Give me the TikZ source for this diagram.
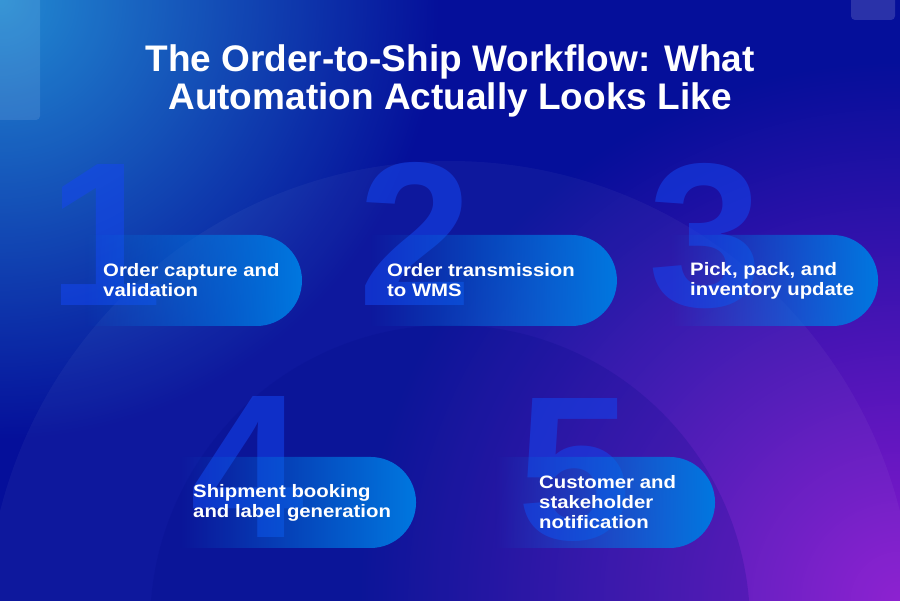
\documentclass[tikz,border=0pt]{standalone}
\usepackage{fontspec}
\setmainfont{Liberation Sans}
\newfontfamily\lblfont{Liberation Sans}[FakeStretch=1.13, UprightFont={* Bold}]
\usetikzlibrary{fadings}
\definecolor{bgbase}{HTML}{050F9A}
\definecolor{glowblue}{HTML}{228AD2}
\definecolor{glowpurple}{HTML}{8A1AD0}
\definecolor{pillblue}{HTML}{0078E0}
\definecolor{numblue}{HTML}{1446F0}
\definecolor{navydeep}{HTML}{030A88}
\tikzfading[name=glow, inner color=transparent!0, outer color=transparent!100]
\tikzfading[name=pillfade, left color=transparent!100, right color=transparent!0]
\begin{document}
\begin{tikzpicture}[x=1pt,y=-1pt,
  bignum/.style={font=\fontsize{205}{205}\selectfont\bfseries, text=numblue, text opacity=0.55, inner sep=0, anchor=base},
  pill/.style={fill=pillblue, path fading=pillfade},
  lbl/.style={font=\fontsize{18}{20}\selectfont\lblfont, text=white, align=left, anchor=west, inner sep=0},
  titletext/.style={font=\fontsize{37}{38}\selectfont\bfseries, text=white, align=center, anchor=north, inner sep=0},
  deco/.style={fill=white, rounded corners=4pt}]
\useasboundingbox (0,0) rectangle (900,601);
\fill[bgbase] (0,0) rectangle (900,601);
\begin{scope}
  \clip (0,0) rectangle (900,601);
  \fill[glowblue, path fading=glow] (0,0) circle (440pt);
  \fill[glowpurple, path fading=glow] (900,601) circle (540pt);
  \fill[white, opacity=0.04] (450,625) circle (464pt);
  \fill[navydeep, opacity=0.2] (450,625) circle (300pt);
  \fill[deco, opacity=0.1] (-10,-10) rectangle (40,120);
  \fill[deco, opacity=0.15] (851,-10) rectangle (895,20);
\end{scope}
% title
\node[titletext] (title) at (450,44.5) {The Order-to-Ship Workflow: What\\Automation Actually Looks Like};
% big numbers
\node[bignum] (n1) at (106,306) {1};
\node[bignum] (n2) at (416,306) {2};
\node[bignum] (n3) at (705,307) {3};
\node[bignum] (n4) at (248,537) {4};
\node[bignum] (n5) at (574,539) {5};
% pills
\fill[pill] (85,235) -- (256.5,235) arc[start angle=90, end angle=-90, radius=45.5pt] -- (85,326) -- cycle;
\fill[pill] (370,235) -- (571.5,235) arc[start angle=90, end angle=-90, radius=45.5pt] -- (370,326) -- cycle;
\fill[pill] (670,235) -- (832.5,235) arc[start angle=90, end angle=-90, radius=45.5pt] -- (670,326) -- cycle;
\fill[pill] (180,457) -- (370.5,457) arc[start angle=90, end angle=-90, radius=45.5pt] -- (180,548) -- cycle;
\fill[pill] (495,457) -- (669.5,457) arc[start angle=90, end angle=-90, radius=45.5pt] -- (495,548) -- cycle;
% labels
\node[lbl] (t1) at (103,280.5) {Order capture and\\validation};
\node[lbl] (t2) at (387,280.5) {Order transmission\\to WMS};
\node[lbl] (t3) at (690,280.5) {Pick, pack, and\\inventory update};
\node[lbl] (t4) at (193,502.5) {Shipment booking\\and label generation};
\node[lbl] (t5) at (539,502.5) {Customer and\\stakeholder\\notification};
\end{tikzpicture}
\end{document}
